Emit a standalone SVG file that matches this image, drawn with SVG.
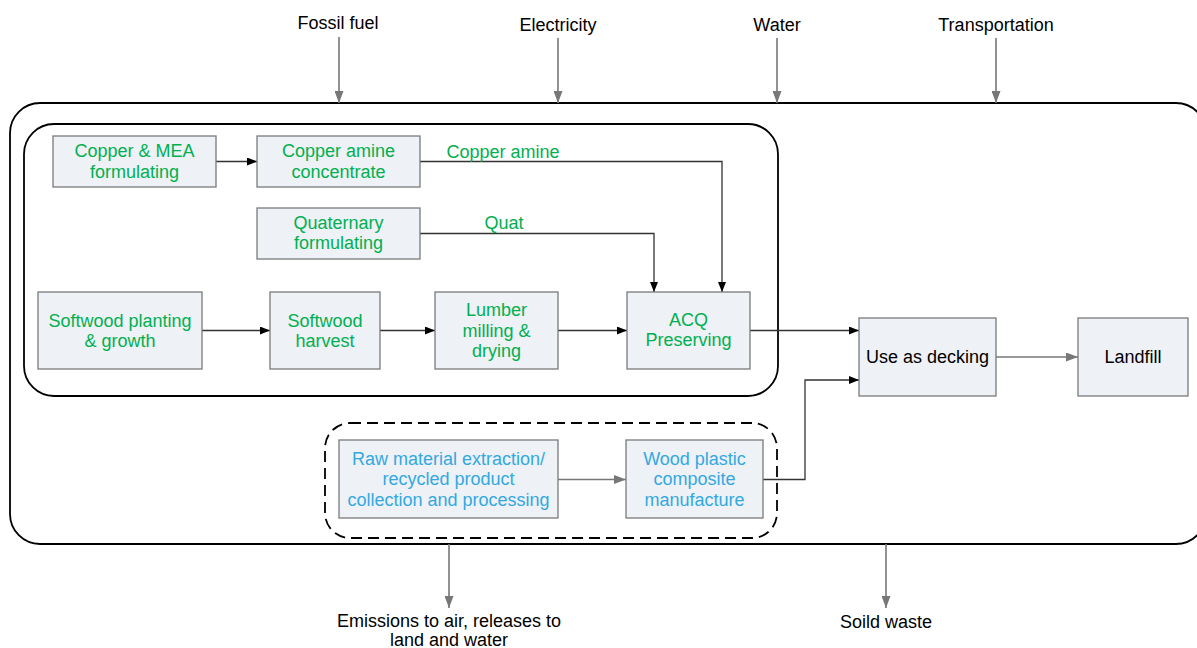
<svg xmlns="http://www.w3.org/2000/svg" width="1197" height="648" viewBox="0 0 1197 648">
<style>
text{font-family:"Liberation Sans",Arial,sans-serif;font-size:18px;text-anchor:middle}
.g{fill:#00b050}
.b{fill:#33a9e0}
.k{fill:#000}
.box{fill:#eef1f6;stroke:#7a7a7a;stroke-width:1.3}
.frame{fill:none;stroke:#000;stroke-width:1.8}
.c{fill:none;stroke:#333;stroke-width:1.3}
.cg{fill:none;stroke:#777;stroke-width:1.6}
</style>
<defs>
<marker id="ak" markerWidth="10" markerHeight="8" refX="10" refY="4" orient="auto" markerUnits="userSpaceOnUse"><path d="M0,0 L10,4 L0,8 Z" fill="#000"/></marker>
<marker id="ag" markerWidth="12" markerHeight="9" refX="12" refY="4.5" orient="auto" markerUnits="userSpaceOnUse"><path d="M0,0 L12,4.5 L0,9 Z" fill="#777"/></marker>
</defs>
<g id="frames">
<rect class="frame" x="10" y="103" width="1196" height="441" rx="30"/>
<rect class="frame" x="24" y="124" width="754" height="272" rx="30"/>
<rect class="frame" x="325" y="423" width="452" height="115" rx="25" stroke-dasharray="11,6"/>
</g>
<g id="connectors">
<path class="c" d="M216,161.5 H257" marker-end="url(#ak)"/>
<path class="c" d="M420,161.5 H722 V292" marker-end="url(#ak)"/>
<path class="c" d="M420,233.5 H654 V292" marker-end="url(#ak)"/>
<path class="c" d="M202,330.5 H270" marker-end="url(#ak)"/>
<path class="c" d="M380,330.5 H435" marker-end="url(#ak)"/>
<path class="c" d="M558,330.5 H627" marker-end="url(#ak)"/>
<path class="c" d="M750,330.5 H859" marker-end="url(#ak)"/>
<path class="c" d="M763,479.5 H805 V380 H859" marker-end="url(#ak)"/>
<path class="cg" d="M996,357 H1078" marker-end="url(#ag)"/>
<path class="cg" d="M558,479.5 H626" marker-end="url(#ag)"/>
<path class="cg" d="M339,37 V103" marker-end="url(#ag)"/>
<path class="cg" d="M558,38 V103" marker-end="url(#ag)"/>
<path class="cg" d="M777,38 V103" marker-end="url(#ag)"/>
<path class="cg" d="M996,38 V103" marker-end="url(#ag)"/>
<path class="cg" d="M449,544 V608" marker-end="url(#ag)"/>
<path class="cg" d="M886,544 V608" marker-end="url(#ag)"/>
<text class="g" x="503" y="158">Copper amine</text>
<text class="g" x="504" y="229">Quat</text>
</g>
<g id="n-copper-mea"><rect class="box" x="53" y="136" width="163" height="51"/><text class="g" x="134.5" y="157">Copper &amp; MEA</text><text class="g" x="134.5" y="178">formulating</text></g>
<g id="n-copper-amine"><rect class="box" x="257" y="136" width="163" height="51"/><text class="g" x="338.5" y="157">Copper amine</text><text class="g" x="338.5" y="178">concentrate</text></g>
<g id="n-quat"><rect class="box" x="257" y="208" width="163" height="51"/><text class="g" x="338.5" y="229">Quaternary</text><text class="g" x="338.5" y="249">formulating</text></g>
<g id="n-softwood-planting"><rect class="box" x="38" y="292" width="164" height="77"/><text class="g" x="120" y="327">Softwood planting</text><text class="g" x="120" y="347">&amp; growth</text></g>
<g id="n-softwood-harvest"><rect class="box" x="270" y="292" width="110" height="77"/><text class="g" x="325" y="327">Softwood</text><text class="g" x="325" y="347">harvest</text></g>
<g id="n-lumber"><rect class="box" x="435" y="292" width="123" height="77"/><text class="g" x="496.5" y="316">Lumber</text><text class="g" x="496.5" y="337">milling &amp;</text><text class="g" x="496.5" y="357">drying</text></g>
<g id="n-acq"><rect class="box" x="627" y="292" width="123" height="77"/><text class="g" x="688.5" y="326">ACQ</text><text class="g" x="688.5" y="346">Preserving</text></g>
<g id="n-decking"><rect class="box" x="859" y="318" width="137" height="78"/><text class="k" x="927.5" y="363">Use as decking</text></g>
<g id="n-landfill"><rect class="box" x="1078" y="318" width="110" height="78"/><text class="k" x="1133" y="363">Landfill</text></g>
<g id="n-raw"><rect class="box" x="339" y="440" width="219" height="78"/><text class="b" x="448.5" y="465">Raw material extraction/</text><text class="b" x="448.5" y="485">recycled product</text><text class="b" x="448.5" y="506">collection and processing</text></g>
<g id="n-wpc"><rect class="box" x="626" y="440" width="137" height="78"/><text class="b" x="694.5" y="465">Wood plastic</text><text class="b" x="694.5" y="485">composite</text><text class="b" x="694.5" y="506">manufacture</text></g>
<g id="inputs">
<text class="k" x="338" y="29">Fossil fuel</text>
<text class="k" x="558" y="31">Electricity</text>
<text class="k" x="777" y="31">Water</text>
<text class="k" x="996" y="31">Transportation</text>
</g>
<g id="outputs">
<text class="k" x="449" y="627">Emissions to air, releases to</text>
<text class="k" x="449" y="646">land and water</text>
<text class="k" x="886" y="628">Soild waste</text>
</g>
</svg>
